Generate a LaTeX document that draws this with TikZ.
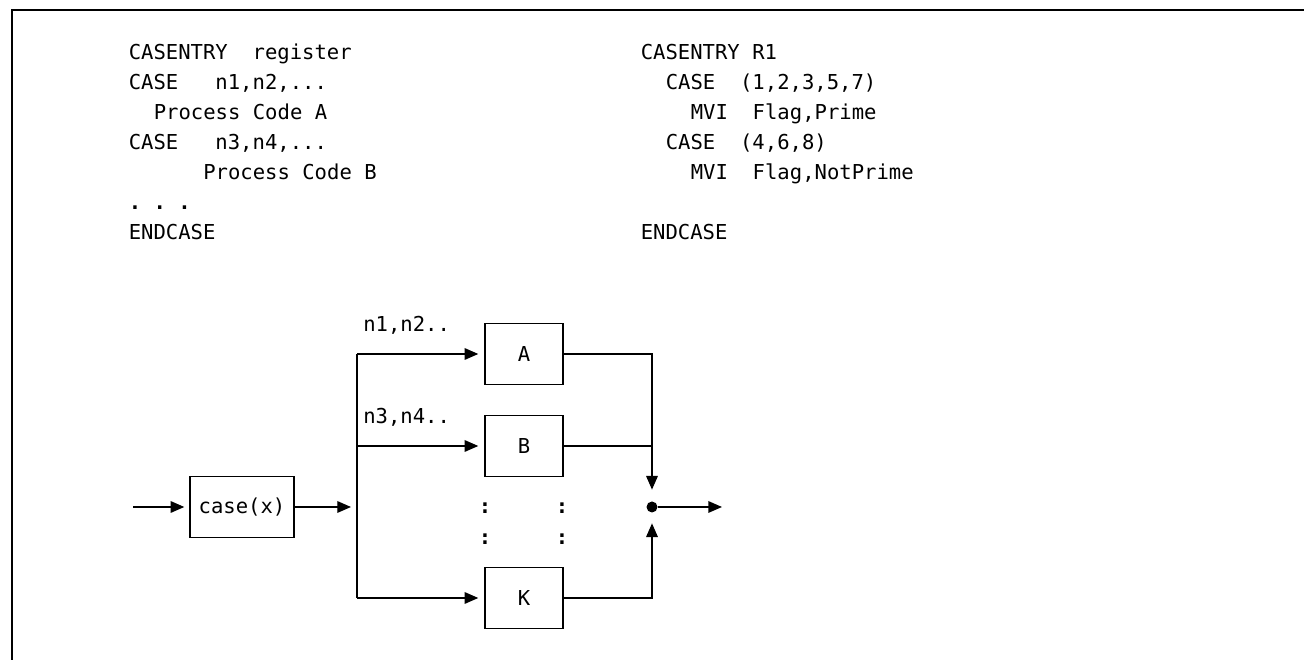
\documentclass[tikz,border=0pt]{standalone}
\usepackage{fontspec}
\setmonofont{DejaVu Sans Mono}
\usetikzlibrary{arrows.meta}
\newcommand\codefont{\ttfamily\fontsize{11.7}{14}\selectfont}
\tikzset{
  code/.style={anchor=base west, inner sep=0pt, font=\codefont},
  colon/.style={inner sep=0pt, font=\codefont\bfseries},
  wire/.style={line width=0.8pt},
  blk/.style={draw, wire, font=\codefont, minimum width=1.56cm, minimum height=1.22cm},
  flow/.style={wire, -{Triangle[length=7.8pt,width=6.6pt]}, shorten >=0.12cm},
  joindot/.style={circle, fill, inner sep=0pt, minimum size=0.22cm},
}
\begin{document}
\begin{tikzpicture}
\useasboundingbox (0,0) rectangle (26.08,13.2);
% frame
\draw[line width=1.2pt] (0.24,0) -- (0.24,13.0) -- (26.08,13.0);

% general form
\node[code] (l1) at (2.57,12.0) {CASENTRY~~register};
\node[code] (l2) at (2.57,11.4) {CASE~~~n1,n2,...};
\node[code] (l3) at (3.07,10.8) {Process Code A};
\node[code] (l4) at (2.57,10.2) {CASE~~~n3,n4,...};
\node[code] (l5) at (4.06,9.6) {Process Code B};
\node[code, font=\codefont\bfseries] (l6) at (2.57,9.0) {.~.~.};
\node[code] (l7) at (2.57,8.4) {ENDCASE};

% example
\node[code] (r1) at (12.81,12.0) {CASENTRY R1};
\node[code] (r2) at (13.31,11.4) {CASE~~(1,2,3,5,7)};
\node[code] (r3) at (13.81,10.8) {MVI~~Flag,Prime};
\node[code] (r4) at (13.31,10.2) {CASE~~(4,6,8)};
\node[code] (r5) at (13.81,9.6) {MVI~~Flag,NotPrime};
\node[code] (r6) at (12.81,8.4) {ENDCASE};

% flow chart
\node[blk, minimum width=2.08cm] (sel) at (4.84,3.06) {case(x)};
\node[blk] (pa) at (10.48,6.12) {A};
\node[blk] (pb) at (10.48,4.28) {B};
\node[blk] (pk) at (10.48,1.24) {K};
\node[joindot] (join) at (13.04,3.06) {};
\coordinate (in) at (2.66,3.06);
\coordinate (bus) at (7.14,3.06);
\coordinate (out) at (14.44,3.06);

\node[code] (na) at (7.26,6.56) {n1,n2..};
\node[code] (nb) at (7.26,4.72) {n3,n4..};
\node[colon] (c1) at (9.70,3.03) {:};
\node[colon] (c2) at (9.70,2.42) {:};
\node[colon] (c3) at (11.24,3.03) {:};
\node[colon] (c4) at (11.24,2.42) {:};

\draw[flow, shorten >=0.1cm] (in) -- (sel);
\draw[flow] (sel) -- (bus);
\draw[wire] (bus |- pa) -- (bus |- pk);
\draw[flow] (bus |- pa) -- (pa);
\draw[flow] (bus |- pb) -- (pb);
\draw[flow] (bus |- pk) -- (pk);
\draw[flow, shorten >=0.23cm] (pa) -| (join);
\draw[wire] (pb) -- (pb -| join);
\draw[flow, shorten >=0.21cm] (pk) -| (join);
\draw[flow, shorten >=0pt] (join) -- (out);
\end{tikzpicture}
\end{document}
